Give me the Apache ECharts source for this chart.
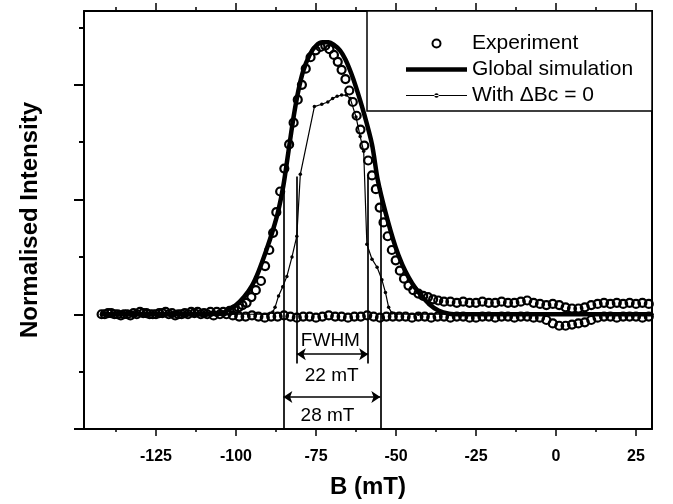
<!DOCTYPE html>
<html lang="en">
<head>
<meta charset="UTF-8">
<title>Normalised Intensity vs B</title>
<script src="https://cdn.jsdelivr.net/npm/echarts@6/dist/echarts.min.js"></script>
<style>
  * { margin: 0; padding: 0; }
  #main { width: 673px; height: 504px; background: #fff; }
</style>
</head>
<body>
<div id="main"></div>
<script>
// ---- data (B in mT, intensity in arbitrary units) ----
const majorB = [-125, -100, -75, -50, -25, 0, 25];
const minorB = [-137.5, -112.5, -87.5, -62.5, -37.5, -12.5, 12.5];
const majorY = [-1, 0, 1, 2];
const minorY = [-0.5, 0.5, 1.5, 2.5];

// experiment, sweep showing the resonance
const expPeak = [
  [-142, 0.00], [-140, 0.01], [-138, 0.00], [-136, -0.01], [-134, 0.00], [-132, 0.01], [-130, 0.02],
  [-128, 0.01], [-126, 0.00], [-124, 0.01], [-122, 0.02], [-120, 0.01], [-118, 0.00], [-116, 0.01],
  [-114, 0.02], [-112, 0.02], [-110, 0.01], [-108, 0.02], [-106, 0.02], [-104, 0.02], [-102, 0.03],
  [-100.6, 0.04], [-99.2, 0.06], [-98, 0.08], [-96.7, 0.10], [-95.2, 0.15], [-93.8, 0.21], [-92.2, 0.29],
  [-90.9, 0.42], [-89.6, 0.56], [-88.4, 0.71], [-87.4, 0.89], [-86.2, 1.07], [-84.9, 1.27], [-83.4, 1.48],
  [-82.0, 1.67], [-80.7, 1.87], [-79.4, 2.00], [-78.2, 2.14], [-76.7, 2.24], [-75.1, 2.30], [-73.6, 2.33],
  [-72.1, 2.34], [-70.8, 2.31], [-69.4, 2.26], [-68.2, 2.20], [-67.0, 2.13], [-65.8, 2.05], [-64.6, 1.95],
  [-63.5, 1.85], [-62.3, 1.73], [-61.1, 1.61], [-59.9, 1.47], [-58.7, 1.34], [-57.5, 1.21], [-56.3, 1.09],
  [-55.1, 0.93], [-53.9, 0.80], [-52.6, 0.68], [-51.3, 0.56], [-50.1, 0.47], [-48.8, 0.38], [-47.5, 0.31],
  [-46.1, 0.25], [-44.6, 0.21], [-43.0, 0.18], [-41.5, 0.16], [-40.0, 0.15], [-38.4, 0.13], [-36.8, 0.12],
  [-35, 0.11], [-33, 0.11], [-31, 0.10], [-29, 0.11], [-27, 0.10], [-25, 0.10], [-23, 0.11], [-21, 0.10],
  [-19, 0.10], [-17, 0.11], [-15, 0.10], [-13, 0.10], [-11, 0.11], [-9, 0.12], [-7, 0.10], [-5, 0.09],
  [-3, 0.08], [-1, 0.09], [1, 0.08], [3, 0.06], [5, 0.05], [7, 0.05], [9, 0.06], [11, 0.08], [13, 0.09],
  [15, 0.10], [17, 0.09], [19, 0.10], [21, 0.09], [23, 0.10], [25, 0.09], [27, 0.10], [29, 0.09]
];

// experiment, flat sweep near zero
const expFlat = [
  [-141, 0.00], [-139, 0.01], [-137, 0.00], [-135, 0.00], [-133, -0.01], [-131, 0.00], [-129, 0.01],
  [-127, 0.00], [-125, 0.00], [-123, 0.01], [-121, 0.00], [-119, -0.01], [-117, 0.00], [-115, 0.00],
  [-113, 0.01], [-111, 0.00], [-109, 0.00], [-107, -0.01], [-105, 0.00], [-103, 0.00], [-101, -0.01],
  [-99, -0.02], [-97, -0.02], [-95, -0.01], [-93, -0.02], [-91, -0.03], [-89, -0.02], [-87, -0.02],
  [-85, -0.01], [-83, -0.02], [-81, -0.03], [-79, -0.02], [-77, -0.02], [-75, -0.03], [-73, -0.02],
  [-71, -0.01], [-69, -0.02], [-67, -0.02], [-65, -0.03], [-63, -0.02], [-61, -0.02], [-59, -0.01],
  [-57, -0.02], [-55, -0.03], [-53, -0.02], [-51, -0.02], [-49, -0.02], [-47, -0.02], [-45, -0.03],
  [-43, -0.02], [-41, -0.02], [-39, -0.03], [-37, -0.02], [-35, -0.02], [-33, -0.03], [-31, -0.02],
  [-29, -0.02], [-27, -0.03], [-25, -0.03], [-23, -0.02], [-21, -0.02], [-19, -0.03], [-17, -0.02],
  [-15, -0.02], [-13, -0.03], [-11, -0.02], [-9, -0.02], [-7, -0.03], [-5, -0.03], [-3, -0.05],
  [-1, -0.08], [1, -0.10], [3, -0.10], [5, -0.09], [7, -0.08], [9, -0.07], [11, -0.05], [13, -0.03],
  [15, -0.02], [17, -0.02], [19, -0.03], [21, -0.02], [23, -0.02], [25, -0.02], [27, -0.03], [29, -0.02]
];

// global simulation
const simData = [
  [-142, 0], [-130, 0], [-120, 0], [-110, 0], [-106, 0.005], [-104, 0.01], [-102.4, 0.04], [-100, 0.08],
  [-97.5, 0.15], [-95, 0.25], [-93, 0.37], [-90.5, 0.56], [-88.5, 0.73], [-86.8, 0.90], [-85.2, 1.12],
  [-83.6, 1.42], [-82, 1.72], [-80.5, 1.95], [-79, 2.12], [-77, 2.26], [-75, 2.34], [-73, 2.37],
  [-71, 2.37], [-69.5, 2.35], [-67.5, 2.30], [-65.8, 2.22], [-64, 2.10], [-62.5, 1.98], [-60.1, 1.76],
  [-57.5, 1.48], [-55.7, 1.17], [-53.3, 0.89], [-50.2, 0.59], [-48, 0.43], [-46, 0.32], [-44, 0.23],
  [-42, 0.16], [-39.7, 0.09], [-36.6, 0.03], [-33.4, 0.005], [-30, 0], [-20, 0], [0, 0], [30, 0]
];

// simulation with delta Bc = 0
const zeroData = [
  [-142, 0], [-135, 0], [-128, 0], [-121, 0], [-114, 0], [-107, 0], [-100, 0], [-94, 0], [-90, 0],
  [-88.5, 0.02], [-87.8, 0.06], [-86.7, 0.16], [-85.4, 0.24], [-84.1, 0.33], [-82.5, 0.50], [-81, 0.68],
  [-79.9, 1.22], [-75.5, 1.81], [-73.2, 1.83], [-71.3, 1.85], [-69.8, 1.88], [-68.4, 1.90], [-67, 1.91],
  [-65.5, 1.91], [-64.3, 1.88], [-62.5, 1.72], [-61.2, 1.55], [-60.1, 1.42], [-59.1, 0.61], [-57.5, 0.48],
  [-55.9, 0.41], [-54.4, 0.30], [-53.3, 0.19], [-52.3, 0.06], [-51.3, 0.01], [-50, 0], [-43, 0], [-36, 0],
  [-29, 0], [-22, 0], [-15, 0], [-8, 0], [-1, 0], [6, 0], [13, 0], [20, 0], [27, 0], [30, 0]
];

// FWHM annotation
const innerB = [-81.0, -58.7];
const outerB = [-85.2, -54.9];
const innerSpan = [1.2, -0.43];
const outerSpan = [1.1, -1];
const arrowY = [-0.348, -0.722];
const noteText = ['FWHM', '22 mT', '28 mT'];
const noteB = [-70.5, -70.1, -71.4];
const noteY = [-0.235, -0.54, -0.887];

const font = 'Liberation Sans, Arial, Helvetica, sans-serif';
const yMin = -1, yMax = 2.643;
const xMin = -147.5, xMax = 30;

var chart = echarts.init(document.getElementById('main'));

function vline(b, span) {
  return [
    { coord: [b, span[0]], symbol: 'none' },
    { coord: [b, span[1]], symbol: 'none' }
  ];
}

// axis helper: every axis sits on the grid edge, not on zero
function frameAxis(kind, pos, extra) {
  const base = {
    type: 'value',
    min: kind === 'x' ? xMin : yMin,
    max: kind === 'x' ? xMax : yMax,
    position: pos,
    axisLine: { show: false, onZero: false },
    axisTick: { show: false },
    axisLabel: { show: false },
    splitLine: { show: false }
  };
  return Object.assign(base, extra);
}

const tickLine = { color: '#000', width: 1.5 };
const frameLine = { show: true, onZero: false, lineStyle: { color: '#000', width: 2 } };

var option = {
  animation: false,
  backgroundColor: '#fff',
  grid: { left: 84, right: 21, top: 11, bottom: 73 },
  legend: {
    orient: 'vertical',
    left: 401,
    top: 28,
    itemWidth: 61,
    itemHeight: 8,
    itemGap: 5,
    selectedMode: false,
    textStyle: { fontFamily: font, fontSize: 21, lineHeight: 21, color: '#000' },
    data: [
      { name: 'Experiment', icon: 'circle',
        itemStyle: { color: 'rgba(0,0,0,0)', borderColor: '#000', borderWidth: 2, opacity: 1 } },
      { name: 'Global simulation', icon: 'path://M0,0h61v4.5H0z',
        itemStyle: { color: '#000', borderWidth: 0 } },
      { name: 'With \u0394Bc = 0',
        icon: 'path://M0,4.4h61v1.2H0z M28.3,5a2.2,2.2 0 1,0 4.4,0a2.2,2.2 0 1,0 -4.4,0z',
        itemStyle: { color: '#000', borderWidth: 0 } }
    ]
  },
  graphic: [{
    type: 'rect', z: 1,
    shape: { x: 367, y: 11, width: 285, height: 100 },
    style: { fill: '#fff', stroke: '#000', lineWidth: 1.5 }
  }],
  xAxis: [
    frameAxis('x', 'bottom', {
      axisLine: frameLine,
      axisTick: { show: true, customValues: majorB, length: 7, lineStyle: tickLine },
      axisLabel: { show: true, customValues: majorB, margin: 20, color: '#000', fontFamily: font, fontSize: 16, fontWeight: 'bold' },
      name: 'B (mT)', nameLocation: 'middle', nameGap: 46,
      nameTextStyle: { color: '#000', fontFamily: font, fontSize: 24, fontWeight: 'bold' }
    }),
    frameAxis('x', 'bottom', {
      axisTick: { show: true, customValues: minorB, length: 3, lineStyle: tickLine }
    }),
    frameAxis('x', 'top', {
      axisLine: frameLine,
      axisTick: { show: true, customValues: majorB, length: 8, lineStyle: tickLine }
    }),
    frameAxis('x', 'top', {
      axisTick: { show: true, customValues: minorB, length: 4, lineStyle: tickLine }
    })
  ],
  yAxis: [
    frameAxis('y', 'left', {
      axisLine: frameLine,
      axisTick: { show: true, customValues: majorY, length: 10, lineStyle: { color: '#000', width: 2 } },
      name: 'Normalised Intensity', nameLocation: 'middle', nameGap: 42,
      nameTextStyle: { color: '#000', fontFamily: font, fontSize: 24, fontWeight: 'bold' }
    }),
    frameAxis('y', 'left', {
      axisTick: { show: true, customValues: minorY, length: 5, lineStyle: { color: '#000', width: 2 } }
    }),
    frameAxis('y', 'right', {
      axisLine: frameLine
    })
  ],
  series: [
    {
      name: 'Global simulation', type: 'line', data: simData,
      smooth: 0.3, showSymbol: false, symbol: 'none', z: 2,
      lineStyle: { color: '#000', width: 4.5 }, itemStyle: { color: '#000' }
    },
    {
      name: 'With \u0394Bc = 0', type: 'line', data: zeroData,
      symbol: 'circle', symbolSize: 3.5, showAllSymbol: true, z: 3,
      lineStyle: { color: '#000', width: 1.2 }, itemStyle: { color: '#000' }
    },
    {
      name: 'Experiment', type: 'scatter', data: expPeak.concat(expFlat),
      symbol: 'circle', symbolSize: 8, z: 4,
      itemStyle: { color: 'rgba(0,0,0,0)', borderColor: '#000', borderWidth: 2.2, opacity: 1 }
    },
    {
      name: 'fwhm', type: 'line', data: [], z: 5,
      markLine: {
        silent: true, animation: false,
        symbol: ['arrow', 'arrow'], symbolSize: 9,
        label: { show: false },
        lineStyle: { color: '#000', width: 1.7, type: 'solid', opacity: 1 },
        data: [
          vline(innerB[0], innerSpan), vline(innerB[1], innerSpan),
          vline(outerB[0], outerSpan), vline(outerB[1], outerSpan),
          [{ coord: [innerB[0], arrowY[0]] }, { coord: [innerB[1], arrowY[0]] }],
          [{ coord: [outerB[0], arrowY[1]] }, { coord: [outerB[1], arrowY[1]] }]
        ]
      }
    },
    {
      name: 'notes', type: 'scatter', symbolSize: 0, z: 6, silent: true,
      itemStyle: { opacity: 1 },
      data: noteText.map((t, i) => ({ name: t, value: [noteB[i], noteY[i]] })),
      label: {
        show: true, position: 'inside', formatter: '{b}',
        color: '#000', fontFamily: font, fontSize: 19, opacity: 1
      }
    }
  ]
};

chart.setOption(option);
</script>
</body>
</html>
